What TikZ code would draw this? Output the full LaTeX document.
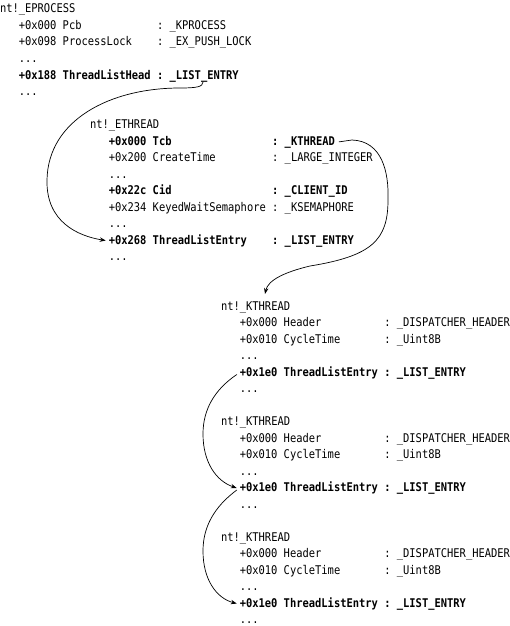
\documentclass[tikz,border=0pt]{standalone}
\usepackage{fontspec}
\newfontfamily\codefont{DejaVu Sans Mono}[FakeStretch=0.87]
\usetikzlibrary{arrows.meta}
\frenchspacing
\newcommand\Y[1]{{13+16.5*(#1)}}
\begin{document}
\begin{tikzpicture}[x=1pt,y=-1pt,
  txt/.style={anchor=base west,inner sep=0pt,outer sep=0pt,font=\fontsize{12}{14}\selectfont\codefont},
  bld/.style={txt,font=\fontsize{12}{14}\selectfont\codefont\bfseries},
  arr/.style={-{Stealth[length=6pt,width=4.4pt]},line width=0.7pt,line cap=round}]
\useasboundingbox (0,0) rectangle (509,626);
\fill[white] (0,0) rectangle (509,626);
% nt!_EPROCESS
\node[txt] (e0) at (0,\Y{0}) {nt!\_EPROCESS};
\node[txt] (e1) at (18.75,\Y{1}) {+0x000 Pcb~~~~~~~~~~~~: \_KPROCESS};
\node[txt] (e2) at (18.75,\Y{2}) {+0x098 ProcessLock~~~~: \_EX\_PUSH\_LOCK};
\node[txt] (e3) at (18.75,\Y{3}) {...};
\node[bld] (e4) at (18.75,\Y{4}) {+0x188 ThreadListHead : \_LIST\_ENTRY};
\node[txt] (e5) at (18.75,\Y{5}) {...};
% nt!_ETHREAD
\node[txt] (t0) at (90,\Y{7}) {nt!\_ETHREAD};
\node[bld] (t1) at (108.75,\Y{8}) {+0x000 Tcb~~~~~~~~~~~~~~~~: \_KTHREAD};
\node[txt] (t2) at (108.75,\Y{9}) {+0x200 CreateTime~~~~~~~~~: \_LARGE\_INTEGER};
\node[txt] (t3) at (108.75,\Y{10}) {...};
\node[bld] (t4) at (108.75,\Y{11}) {+0x22c Cid~~~~~~~~~~~~~~~~: \_CLIENT\_ID};
\node[txt] (t5) at (108.75,\Y{12}) {+0x234 KeyedWaitSemaphore : \_KSEMAPHORE};
\node[txt] (t6) at (108.75,\Y{13}) {...};
\node[bld] (t7) at (108.75,\Y{14}) {+0x268 ThreadListEntry~~~~: \_LIST\_ENTRY};
\node[txt] (t8) at (108.75,\Y{15}) {...};
% nt!_KTHREAD blocks
\foreach \b/\r in {1/18,2/25,3/32}{
  \node[txt] (k\b-0) at (221,\Y{\r}) {nt!\_KTHREAD};
  \node[txt] (k\b-1) at (239.75,\Y{\r+1}) {+0x000 Header~~~~~~~~~~: \_DISPATCHER\_HEADER};
  \node[txt] (k\b-2) at (239.75,\Y{\r+2}) {+0x010 CycleTime~~~~~~~: \_Uint8B};
  \node[txt] (k\b-3) at (239.75,\Y{\r+3}) {...};
  \node[bld] (k\b-4) at (239.75,\Y{\r+4}) {+0x1e0 ThreadListEntry : \_LIST\_ENTRY};
  \node[txt] (k\b-5) at (239.75,\Y{\r+5}) {...};
}
% connectors
\coordinate (a0) at (203,82);
\coordinate (b1) at (265,294);
\draw[arr] (a0) .. controls (203,87) and (196,88) .. (180,88)
  .. controls (110,88) and (48,120) .. (47,180)
  .. controls (46,222) and (78,236) .. ([xshift=-3pt]t7.west);
\draw[arr] ([xshift=4pt]t1.east) -- (352,140)
  .. controls (382,141) and (389,172) .. (388,200)
  .. controls (388,240) and (372,256) .. (310,266)
  .. controls (285,272) and (268,280) .. (b1);
\draw[arr] ([xshift=-3pt,yshift=-2pt]k1-4.west) .. controls (214,390) and (203,410) .. (203,434)
  .. controls (203,462) and (216,481) .. ([xshift=-3pt]k2-4.west);
\draw[arr] ([xshift=-3pt,yshift=-2pt]k2-4.west) .. controls (214,507) and (203,527) .. (203,551)
  .. controls (203,579) and (216,598) .. ([xshift=-3pt]k3-4.west);
\end{tikzpicture}
\end{document}
